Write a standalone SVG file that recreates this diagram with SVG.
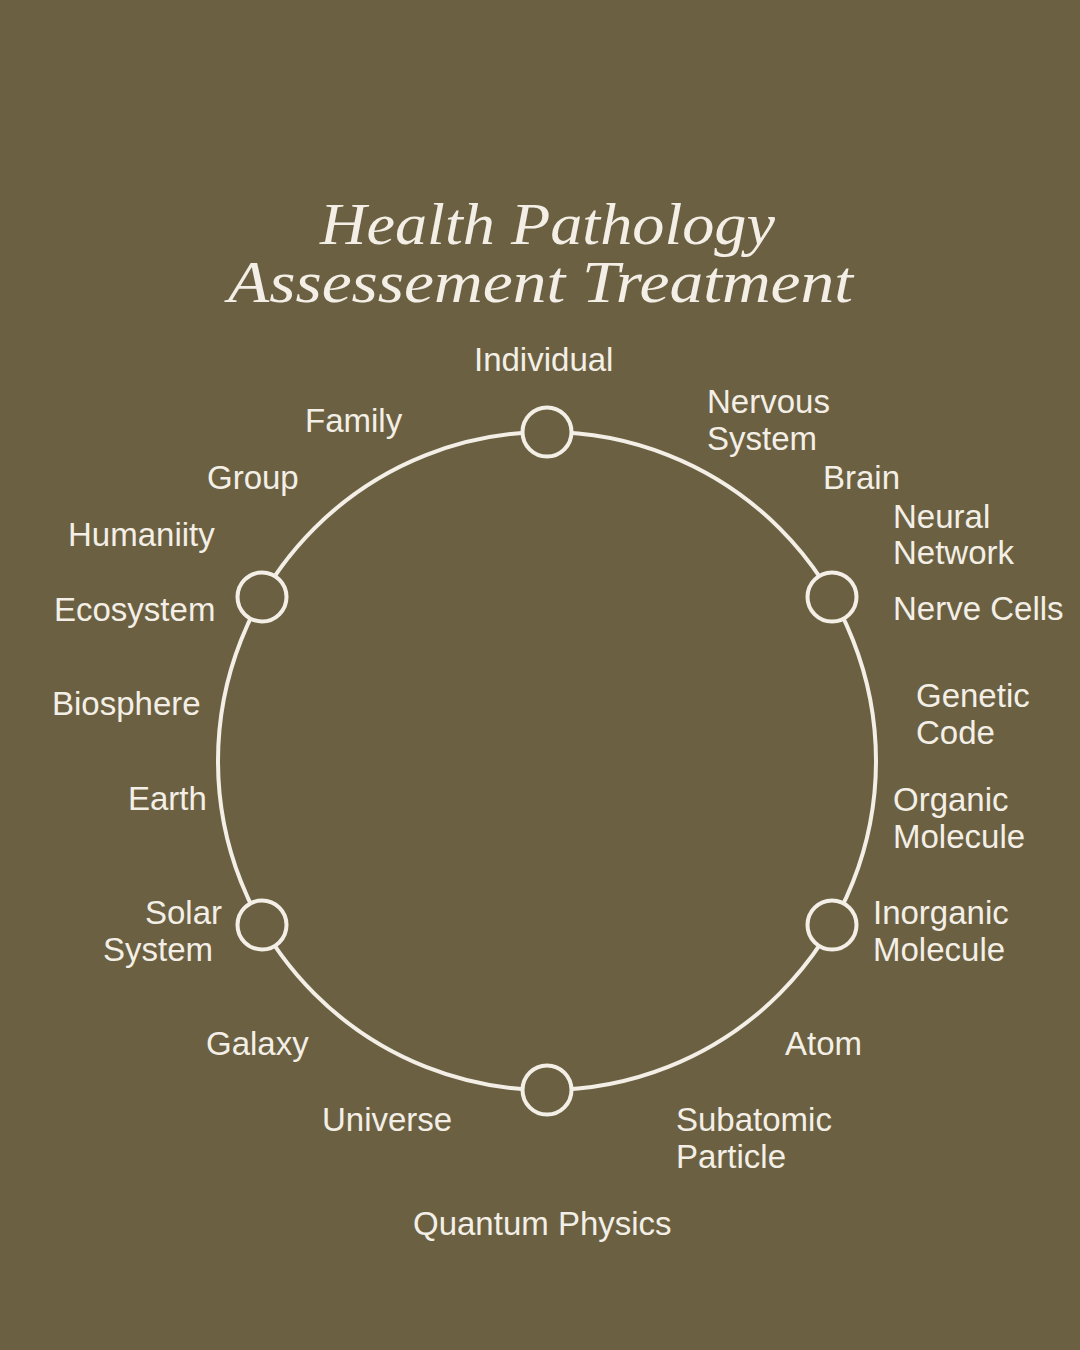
<svg xmlns="http://www.w3.org/2000/svg" width="1080" height="1350" viewBox="0 0 1080 1350">
<style>
.lbl{font-family:"Liberation Sans",Arial,sans-serif;font-size:33px;fill:#f4efe6}
.ttl{font-family:"Liberation Serif","Times New Roman",serif;font-style:italic;font-size:60px;fill:#f4efe6}
.ring{fill:none;stroke:#f4efe6;stroke-width:4}
.dot{fill:#6b6142;stroke:#f4efe6;stroke-width:4}
</style>
<rect width="1080" height="1350" fill="#6b6142"/>
<g id="title">
<text class="ttl" x="320" y="244" textLength="455" lengthAdjust="spacingAndGlyphs">Health Pathology</text>
<text class="ttl" x="228" y="302" textLength="625" lengthAdjust="spacingAndGlyphs">Assessement Treatment</text>
</g>
<g id="connectors">
<circle class="ring" cx="547" cy="761" r="329"/>
</g>
<g id="node-top"><circle class="dot" cx="547" cy="432" r="24.5"/></g>
<g id="node-upper-right"><circle class="dot" cx="832" cy="597" r="24.5"/></g>
<g id="node-lower-right"><circle class="dot" cx="832" cy="925" r="24.5"/></g>
<g id="node-bottom"><circle class="dot" cx="547" cy="1090" r="24.5"/></g>
<g id="node-lower-left"><circle class="dot" cx="262" cy="925" r="24.5"/></g>
<g id="node-upper-left"><circle class="dot" cx="262" cy="597" r="24.5"/></g>
<g id="labels">
<text class="lbl" x="474" y="371">Individual</text>
<text class="lbl" x="707" y="413">Nervous</text>
<text class="lbl" x="707" y="450">System</text>
<text class="lbl" x="823" y="489">Brain</text>
<text class="lbl" x="893" y="528">Neural</text>
<text class="lbl" x="893" y="564">Network</text>
<text class="lbl" x="893" y="620">Nerve Cells</text>
<text class="lbl" x="916" y="707">Genetic</text>
<text class="lbl" x="916" y="744">Code</text>
<text class="lbl" x="893" y="811">Organic</text>
<text class="lbl" x="893" y="848">Molecule</text>
<text class="lbl" x="873" y="924">Inorganic</text>
<text class="lbl" x="873" y="961">Molecule</text>
<text class="lbl" x="785" y="1055">Atom</text>
<text class="lbl" x="676" y="1131">Subatomic</text>
<text class="lbl" x="676" y="1168">Particle</text>
<text class="lbl" x="413" y="1235">Quantum Physics</text>
<text class="lbl" x="322" y="1131">Universe</text>
<text class="lbl" x="206" y="1055">Galaxy</text>
<text class="lbl" x="222" y="924" text-anchor="end">Solar</text>
<text class="lbl" x="213" y="961" text-anchor="end">System</text>
<text class="lbl" x="128" y="810">Earth</text>
<text class="lbl" x="52" y="715">Biosphere</text>
<text class="lbl" x="54" y="621">Ecosystem</text>
<text class="lbl" x="68" y="546">Humaniity</text>
<text class="lbl" x="207" y="489">Group</text>
<text class="lbl" x="305" y="432">Family</text>
</g>
</svg>
